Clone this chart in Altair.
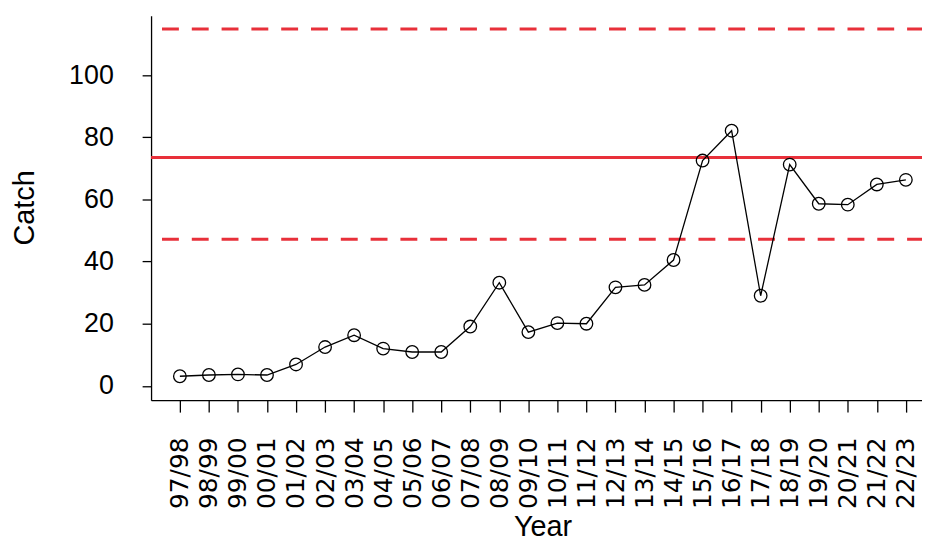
import altair as alt
import pandas as pd

years = ["97/98", "98/99", "99/00", "00/01", "01/02", "02/03", "03/04", "04/05",
         "05/06", "06/07", "07/08", "08/09", "09/10", "10/11", "11/12", "12/13",
         "13/14", "14/15", "15/16", "16/17", "17/18", "18/19", "19/20", "20/21",
         "21/22", "22/23"]
catch = [3.1, 3.5, 3.7, 3.5, 6.9, 12.5, 16.3, 12.0, 10.9, 10.9, 19.1, 33.2, 17.3,
         20.2, 20.0, 31.7, 32.5, 40.5, 72.5, 82.1, 29.0, 71.2, 58.6, 58.3, 64.8, 66.3]
mean_level = [73.5]
bound_levels = [47.2, 114.8]
y_ticks = [0, 20, 40, 60, 80, 100]

FONT = "Liberation Sans"
RED = "#e8303a"
ydom = [-4.6, 119.1]

df = pd.DataFrame({"Year": years, "Catch": catch})
df_mean = pd.DataFrame({"Catch": mean_level})
df_bounds = pd.DataFrame({"Catch": bound_levels})

xenc = alt.X(
    "Year:O", sort=years,
    scale=alt.Scale(type="point", padding=0.774, align=0.641),
    axis=alt.Axis(title="Year", labelAngle=270, labelFontSize=25, labelFont="DejaVu Sans",
                  tickSize=12, labelPadding=25, titleFontSize=29, titleX=394, titleY=136,
                  titleBaseline="alphabetic", labelOverlap=False, labelBound=False),
)
yenc = alt.Y(
    "Catch:Q", scale=alt.Scale(domain=ydom, nice=False, zero=False),
    axis=alt.Axis(title="Catch", values=y_ticks, labelFontSize=27, tickSize=9,
                  labelPadding=29, titleFontSize=29, titleX=-127, titleY=193,
                  titleAngle=270, titleBaseline="middle", labelOverlap=False),
)

bounds = alt.Chart(df_bounds).mark_rule(
    color=RED, strokeWidth=3, strokeDash=[17, 13], strokeDashOffset=2
).encode(y=yenc)
mean = alt.Chart(df_mean).mark_rule(color=RED, strokeWidth=3).encode(y=yenc)
line = alt.Chart(df).mark_line(color="black", strokeWidth=1.3).encode(x=xenc, y=yenc)
points = alt.Chart(df).mark_point(shape="circle", size=160, filled=False, color="black",
                                  strokeWidth=1.3, opacity=1).encode(x=xenc, y=yenc)

chart = alt.layer(bounds, mean, line, points).properties(
    width=776, height=387,
    padding={"left": 144, "top": 6, "right": 0, "bottom": 144},
    autosize=alt.AutoSizeParams(type="none"),
).configure_view(stroke=None).configure_axis(
    grid=False, labelFont=FONT, titleFont=FONT, labelColor="black", titleColor="black",
    domainColor="black", tickColor="black", domainWidth=1.3, tickWidth=1.3,
    titleFontWeight="normal",
)

chart.save("out.html", embed_options={"renderer": "svg", "actions": False})
